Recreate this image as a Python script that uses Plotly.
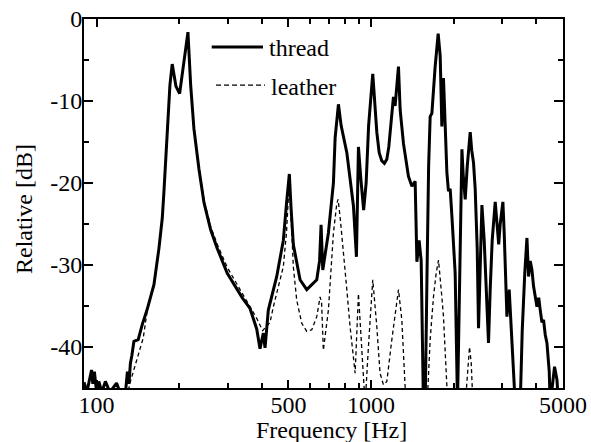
import math
import plotly.graph_objects as go

# ---------------- data ----------------
thread_freq = [90, 92.2, 95.9, 96.9, 98.2, 100, 101.9, 104.5, 107.7, 111.8, 118.3, 121.6, 127.5, 129.5,
               131.2, 132.8, 134.5, 136.8, 141.8, 146.6, 152.9, 161.8, 168.7, 173.5, 176, 180.9, 185,
               188.6, 194.6, 200.7, 208.1, 215.2, 220.2, 226.3, 236, 246.2, 260.4, 275.3, 299.3, 325.6,
               339.6, 362.2, 383.1, 393.9, 405, 410.8, 422.3, 453.2, 478.9, 491.9, 503.7, 510.9, 520.9,
               551.1, 582.9, 633.9, 649, 657.3, 666.7, 698.9, 729, 739.5, 760.3, 777.7, 815.8, 862.3,
               884.2, 893.2, 899.2, 917.6, 939.4, 959.2, 979.3, 1014, 1049, 1070, 1094, 1118, 1141, 1160,
               1173, 1206, 1223,
               1258, 1276, 1312, 1368, 1408, 1447, 1468, 1496, 1522, 1551, 1574, 1600, 1620, 1641, 1665,
               1711, 1755, 1785, 1810, 1835, 1861, 1888, 1913, 1941, 1969, 1995, 2024, 2064, 2094, 2120,
               2142, 2165, 2202, 2239, 2296, 2325, 2360, 2394, 2435, 2462, 2497, 2533, 2582, 2626, 2677,
               2715, 2761, 2832, 2880, 2916, 2953, 3020, 3053, 3124, 3184, 3238, 3293, 3350, 3493, 3552,
               3628, 3695, 3745, 3799, 3853, 3906, 4018, 4079, 4131, 4190, 4247, 4308, 4370, 4455, 4492,
               4569, 4658, 4753, 4817, 5000]
thread_db = [-44.3, -45.5, -42.8, -44.5, -43, -45.5, -44.2, -45.5, -44.2, -45.5, -44.4, -45.5, -45.5, -43,
             -44.5, -42, -41, -39.3, -39.1, -37.3, -35.4, -32.4, -28, -24.3, -21, -13.4, -8.1,
             -5.5, -8.2, -9.1, -5.5, -1.6, -8.1, -13.4, -18.3, -22.4, -25.7, -28, -31, -33,
             -34, -35.3, -37.8, -40.2, -38.3, -40.1, -35.5, -31.4, -27, -22.5, -18.9, -23, -27.5,
             -31.8, -33, -31.8, -29.5, -25.1, -30.6, -26.1, -20, -14.5, -10.4, -13, -16.3, -22.8,
             -29, -21, -15.6, -19.5, -23.3, -20, -13, -6.7, -13.8, -16.3, -17.3, -17.6, -17.1, -15.6,
             -13.9, -9.5, -10.6,
             -5.8, -11.1, -15.2, -19.2, -20.4, -19.8, -29.6, -27, -29.5, -47, -47, -30, -18, -11.9, -11.5,
             -5.8, -1.8, -4.5, -13.1, -7.2, -13.1, -18.7, -21, -20.7, -24, -28, -31, -47, -33, -20.3,
             -15.9, -19, -22, -18, -13.8, -16, -17.5, -20.7, -28, -37.7, -30, -22.7, -27, -33, -39.5,
             -33, -27, -22.3, -25, -27.5, -25, -22.3, -26, -36.3, -33, -38, -43, -47, -47, -38,
             -31, -26.7, -31.4, -29.5, -30.6, -32.6, -35.1, -34, -35.5, -37, -36.7, -38.5, -39.5, -43, -47,
             -44.5, -42.4, -44, -47, -47]

leather_freq = [90, 127.5, 132.3, 139.9, 147.9, 152.9, 161.8, 168.7, 173.5, 176, 180.9, 185, 188.6, 194.6,
                200.7, 208.1, 215.2, 220.2, 226.3, 236, 246.2, 260.4, 275.3, 299.3, 325.6, 339.6, 362.2,
                383.1, 402.6, 414, 428.4, 440.5, 478.9, 491.9, 503.7, 510.9, 520.9, 535.9, 559, 582.9,
                607.9, 633.9, 651.8, 660, 670, 698.9, 729, 749.9, 758, 770.9, 792.5, 815.8, 838.3, 874.6,
                899.2, 917.6, 937.7, 951, 977.7, 1014, 1049, 1078, 1109, 1141, 1190, 1223, 1258, 1294,
                1330, 1353, 1600, 1641, 1687, 1726, 1760, 1810, 1835, 1888, 1908, 2202, 2245, 2283, 2316,
                2349, 5000]
leather_db = [-47, -47, -44.4, -41.6, -38.9, -35.6, -32.4, -28, -24.3, -21, -13.4, -8.1, -5.5, -8.2,
              -9.1, -5.5, -1.6, -8.1, -13.4, -18.2, -22.1, -25.3, -27.5, -30.3, -32.4, -33.4, -35,
              -36.5, -38, -37.5, -37, -35.1, -30.2, -26, -19.5, -24, -30.2, -34.3, -37.1, -38.1,
              -37.9, -36.3, -33.9, -34.5, -40.4, -35.5, -26.1, -22.5, -22, -24.1, -28.2, -33, -37.5, -43.2,
              -33.5, -39.1, -44.8, -47, -40, -31.8, -37.5, -43.2, -44.6, -44.2, -39.1, -36, -33, -36.7,
              -44.8, -47, -47, -39.1, -33.9, -31, -29.4, -33.9, -36.3, -44.8, -47, -47, -43, -40, -42,
              -47, -47]

series_names = ["thread", "leather"]
x_major_ticks = [100, 500, 1000, 5000]
x_major_labels = ["100", "500", "1000", "5000"]
x_minor_ticks = [200, 300, 400, 600, 700, 800, 900, 2000, 3000, 4000]
y_major_ticks = [0, -10, -20, -30, -40]
y_major_labels = ["0", "-10", "-20", "-30", "-40"]
y_minor_ticks = [-5, -15, -25, -35]
x_range = [90, 5000]
y_range = [-45, 0]
x_title = "Frequency [Hz]"
y_title = "Relative [dB]"

# ---------------- figure ----------------
FONT = "Liberation Serif, Times New Roman, serif"
FS = 24

fig = go.Figure()
fig.add_trace(go.Scatter(x=thread_freq, y=thread_db, mode="lines", name=series_names[0],
                         line=dict(color="black", width=3), showlegend=False))
fig.add_trace(go.Scatter(x=leather_freq, y=leather_db, mode="lines", name=series_names[1],
                         line=dict(color="black", width=1.3, dash="4px,3px"), showlegend=False))

axis_common = dict(showline=True, linecolor="black", linewidth=2, mirror="ticks",
                   ticks="inside", tickcolor="black", tickwidth=1.5,
                   showgrid=False, zeroline=False, automargin=False,
                   tickfont=dict(family=FONT, size=FS, color="black"))

fig.update_xaxes(type="log", range=[math.log10(x_range[0]), math.log10(x_range[1])],
                 tickmode="array", tickvals=x_major_ticks, ticktext=x_major_labels, ticklen=8,
                 ticklabelstandoff=-6,
                 minor=dict(tickmode="array", tickvals=x_minor_ticks, ticks="inside", ticklen=5,
                            tickwidth=1.5, tickcolor="black", showgrid=False),
                 **axis_common)
fig.update_yaxes(range=y_range, tickmode="array", tickvals=y_major_ticks, ticktext=y_major_labels,
                 ticklen=9, ticklabelstandoff=-5,
                 minor=dict(tickmode="array", tickvals=y_minor_ticks, ticks="inside", ticklen=5,
                            tickwidth=1.5, tickcolor="black", showgrid=False),
                 **axis_common)

# legend drawn inside the plot
fig.add_shape(type="line", xref="paper", yref="paper", x0=0.2666, x1=0.3737, y0=0.924, y1=0.924,
              line=dict(color="black", width=3))
fig.add_shape(type="line", xref="paper", yref="paper", x0=0.2756, x1=0.3779, y0=0.821, y1=0.821,
              line=dict(color="black", width=1.3, dash="5px,3px"))
fig.add_annotation(xref="paper", yref="paper", x=0.382, y=0.921, text=series_names[0], showarrow=False,
                   xanchor="left", yanchor="middle", font=dict(family=FONT, size=FS, color="black"))
fig.add_annotation(xref="paper", yref="paper", x=0.386, y=0.816, text=series_names[1], showarrow=False,
                   xanchor="left", yanchor="middle", font=dict(family=FONT, size=FS, color="black"))

# axis titles
fig.add_annotation(xref="paper", yref="paper", x=0.5157, y=-0.115, text=x_title, showarrow=False,
                   xanchor="center", yanchor="middle", font=dict(family=FONT, size=FS, color="black"))
fig.add_annotation(xref="paper", yref="paper", x=-0.1253, y=0.485, text=y_title, showarrow=False,
                   textangle=-90, xanchor="center", yanchor="middle",
                   font=dict(family=FONT, size=FS, color="black"))

fig.update_layout(width=591, height=442, margin=dict(l=84, r=28, t=19, b=54, autoexpand=False),
                  paper_bgcolor="white", plot_bgcolor="white", showlegend=False,
                  font=dict(family=FONT, size=FS, color="black"))

# remove the browser's default page margin so the figure sits at the window's corner
fig.write_html("out.html", config={"displayModeBar": False},
               post_script="document.body.style.margin='0px';")
